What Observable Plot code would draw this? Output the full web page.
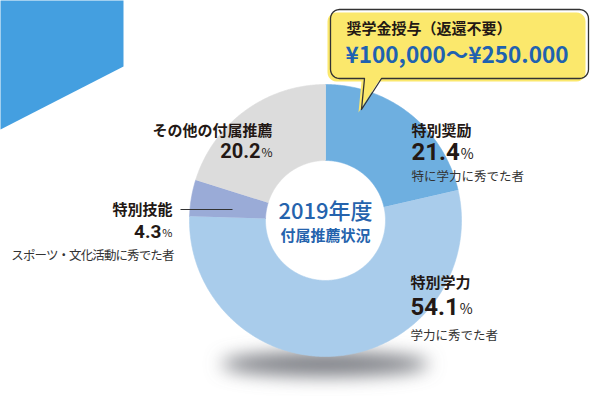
<!DOCTYPE html>
<html><head><meta charset="utf-8">
<script src="https://cdn.jsdelivr.net/npm/d3@7"></script>
<script src="https://cdn.jsdelivr.net/npm/@observablehq/plot@0.6"></script>
<style>html,body{margin:0;padding:0;background:#fff}svg{display:block}</style>
</head><body><div id="chart"></div>
<script>
// ---- data ----
const categories = ["特別奨励", "特別学力", "特別技能", "その他の付属推薦"];
const shares = [21.4, 54.1, 4.3, 20.2];
const descriptions = ["特に学力に秀でた者", "学力に秀でた者", "スポーツ・文化活動に秀でた者", ""];
const sliceColors = ["#6eafe0", "#a9cceb", "#9aabd7", "#dcdcdc"];
const centerTitle = ["2019年度", "付属推薦状況"];
const calloutLines = ["奨学金授与（返還不要）", "¥100,000〜¥250.000"];

// ---- layout ----
const W = 600, H = 396;
const cx = 325, cy = 220, R = 136, R0 = 60;
const FONT = '"Noto Sans CJK JP", "Noto Sans", sans-serif';
const NUMFONT = 'Roboto, "Noto Sans", sans-serif';
const INK = "#231815";
const labelLayout = [
  {x: 411, anchor: "start", nameY: 135, pctY: 159, descY: 180, pctSize: 24},
  {x: 410, anchor: "start", nameY: 287, pctY: 314, descY: 339, pctSize: 24},
  {x: 172, anchor: "end",   nameY: 214, pctY: 237, descY: 259, pctSize: 19},
  {x: 272, anchor: "end",   nameY: 135, pctY: 157, descY: 0,   pctSize: 20}
];

const ctx = document.createElement("canvas").getContext("2d");
function textWidth(str, size, weight, fam) {
  ctx.font = `${weight} ${size}px ${fam}`;
  return ctx.measureText(str).width;
}

// ---- slices ----
const total = d3.sum(shares);
let acc = 0;
const sliceMarks = shares.map((v, i) => {
  const a0 = acc / total * 2 * Math.PI; acc += v; const a1 = acc / total * 2 * Math.PI;
  const n = Math.max(6, Math.ceil((a1 - a0) / 0.01));
  const pts = [];
  for (let k = 0; k <= n; k++) { const a = a0 + (a1 - a0) * k / n; pts.push([cx + R * Math.sin(a), cy - R * Math.cos(a)]); }
  for (let k = n; k >= 0; k--) { const a = a0 + (a1 - a0) * k / n; pts.push([cx + R0 * Math.sin(a), cy - R0 * Math.cos(a)]); }
  return Plot.line(pts, {x: d => d[0], y: d => d[1], fill: sliceColors[i], stroke: sliceColors[i], strokeWidth: 0.6, curve: "linear"});
});

// ---- labels ----
const labelMarks = [];
categories.forEach((name, i) => {
  const L = labelLayout[i];
  labelMarks.push(Plot.text([name], {x: () => L.x, y: () => L.nameY, text: d => d, textAnchor: L.anchor, lineAnchor: "bottom",
    fontSize: 15, fontWeight: "bold", fontFamily: FONT, fill: INK}));
  const num = shares[i].toFixed(1);
  const pctSz = Math.round(L.pctSize * 0.58);
  const numW = textWidth(num, L.pctSize, "bold", NUMFONT);
  const pW = textWidth("%", pctSz, "normal", FONT);
  const numX = L.anchor === "start" ? L.x : L.x - pW - 1;
  const pX = L.anchor === "start" ? L.x + numW + 1 : L.x;
  labelMarks.push(Plot.text([num], {x: () => numX, y: () => L.pctY, text: d => d, textAnchor: L.anchor, lineAnchor: "bottom",
    fontSize: L.pctSize, fontWeight: "bold", fontFamily: NUMFONT, fill: INK}));
  labelMarks.push(Plot.text(["%"], {x: () => pX, y: () => L.pctY - 1, text: d => d, textAnchor: L.anchor, lineAnchor: "bottom",
    fontSize: pctSz, fontWeight: "normal", fontFamily: FONT, fill: INK}));
  if (descriptions[i]) {
    labelMarks.push(Plot.text([descriptions[i]], {x: () => L.x + (L.anchor === "end" ? 1 : 0), y: () => L.descY, text: d => d,
      textAnchor: L.anchor, lineAnchor: "bottom", fontSize: 12.5, fontFamily: FONT, fill: "#333", className: "desc" + i}));
  }
});

// ---- decorations ----
const corner = [[0, 0], [123, 0], [123, 66], [0, 129]];
function bubble(dx, dy) {
  const x1 = 330 + dx, x2 = 588 + dx, y1 = 9 + dy, y2 = 78 + dy, r = 9;
  const pts = [];
  const arc = (ccx, ccy, s, e) => { for (let k = 0; k <= 6; k++) { const a = s + (e - s) * k / 6; pts.push([ccx + r * Math.cos(a), ccy + r * Math.sin(a)]); } };
  pts.push([364 + dx, y2]);
  arc(x1 + r, y2 - r, Math.PI / 2, Math.PI);
  arc(x1 + r, y1 + r, Math.PI, 1.5 * Math.PI);
  arc(x2 - r, y1 + r, 1.5 * Math.PI, 2 * Math.PI);
  arc(x2 - r, y2 - r, 0, Math.PI / 2);
  pts.push([381 + dx, y2]);
  pts.push([361 + dx, 109 + dy]);
  pts.push([364 + dx, y2]);
  return pts;
}

const plot = Plot.plot({
  width: W, height: H, margin: 0,
  x: {domain: [0, W], range: [0, W], axis: null},
  y: {domain: [0, H], range: [0, H], axis: null},
  style: {background: "#fff", overflow: "visible"},
  marks: [
    Plot.line(corner, {x: d => d[0], y: d => d[1], fill: "#449fe0", stroke: "none"}),
    ...sliceMarks,
    Plot.link([0], {x1: () => 180, x2: () => 232, y1: () => 209, y2: () => 209, stroke: "#333", strokeWidth: 1.2}),
    Plot.text([centerTitle[0]], {x: () => cx, y: () => 218, text: d => d, lineAnchor: "bottom", fontSize: 22, fontWeight: 500, fontFamily: FONT, fill: "#2563ad"}),
    Plot.text([centerTitle[1]], {x: () => cx, y: () => 240, text: d => d, lineAnchor: "bottom", fontSize: 15, fontWeight: 600, fontFamily: FONT, fill: "#2563ad"}),
    ...labelMarks,
    Plot.line(bubble(-3, 3), {x: d => d[0], y: d => d[1], fill: "#fbe86c", stroke: "none"}),
    Plot.line(bubble(0, 0), {x: d => d[0], y: d => d[1], fill: "none", stroke: "#333", strokeWidth: 1.3}),
    Plot.text([calloutLines[0]], {x: () => 346, y: () => 33, text: d => d, textAnchor: "start", lineAnchor: "bottom", fontSize: 15, fontWeight: "bold", fontFamily: FONT, fill: INK}),
    Plot.text([calloutLines[1]], {x: () => 345, y: () => 62, text: d => d, textAnchor: "start", lineAnchor: "bottom", fontSize: 22.5, fontWeight: "bold", fontFamily: FONT, fill: "#1f62b0"})
  ]
});

// tighten the long description so it fits like the reference
d3.select(plot).selectAll(".desc2 text").style("letter-spacing", "-0.9px");

// shadow below the donut
const svg = d3.select(plot);
const defs = svg.insert("defs", ":first-child");
defs.append("filter").attr("id", "blur").attr("x", "-50%").attr("y", "-200%").attr("width", "200%").attr("height", "500%")
  .append("feGaussianBlur").attr("stdDeviation", 9);
const firstMark = plot.querySelector("g");
const ell = document.createElementNS("http://www.w3.org/2000/svg", "ellipse");
ell.setAttribute("cx", cx); ell.setAttribute("cy", 364); ell.setAttribute("rx", 104); ell.setAttribute("ry", 12);
ell.setAttribute("fill", "#7a7d83"); ell.setAttribute("filter", "url(#blur)");
plot.insertBefore(ell, firstMark);

document.getElementById("chart").appendChild(plot);
</script>
</body></html>
